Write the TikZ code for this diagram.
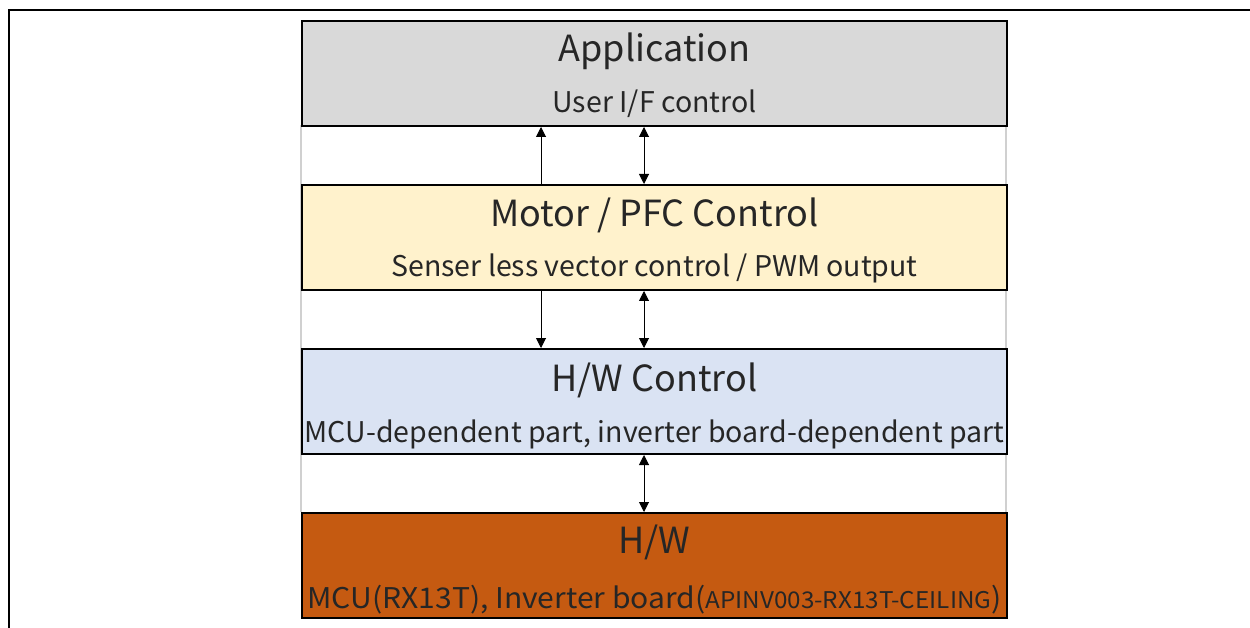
\documentclass[tikz,border=0pt]{standalone}
\usepackage{fontspec}
\setmainfont{Noto Sans CJK JP}
\usetikzlibrary{arrows.meta}
\definecolor{appfill}{HTML}{D9D9D9}
\definecolor{motfill}{HTML}{FFF2CC}
\definecolor{hwcfill}{HTML}{DAE3F3}
\definecolor{hwfill}{HTML}{C55A11}
\definecolor{sidegray}{HTML}{D0D0D0}
\definecolor{txt}{HTML}{262626}
\tikzset{
  layer/.style={draw=black, line width=2pt, minimum width=705pt, minimum height=105pt, inner sep=0pt, anchor=north west},
  ttl/.style={font=\fontsize{36}{40}\selectfont, inner sep=0pt, anchor=base, text=txt},
  sub/.style={font=\fontsize{28.5}{32}\selectfont, inner sep=0pt, anchor=base, text=txt},
  arr/.style={line width=1pt, -{Triangle[length=10pt,width=10pt]}},
  darr/.style={line width=1pt, {Triangle[length=10pt,width=10pt]}-{Triangle[length=10pt,width=10pt]}},
  frame/.style={line width=2pt, draw=black},
  side/.style={line width=1.5pt, draw=sidegray}
}
\begin{document}
\begin{tikzpicture}[x=1pt,y=-1pt]
\useasboundingbox (0,0) rectangle (1250,628);
\draw[frame] (9,628) -- (9,10) -- (1251,10);
\coordinate (sl1) at (301,125);
\coordinate (sl2) at (301,512);
\coordinate (sr1) at (1006,125);
\coordinate (sr2) at (1006,512);
\draw[side] (sl1) -- (sl2);
\draw[side] (sr1) -- (sr2);
\node[layer, fill=appfill] (app) at (301,20) {};
\node[layer, fill=motfill] (mot) at (301,184) {};
\node[layer, fill=hwcfill] (hwc) at (301,348) {};
\node[layer, fill=hwfill] (hw) at (301,512) {};
\node[ttl] (appt) at ([yshift=-42pt]app.north) {Application};
\node[sub] (apps) at ([yshift=14pt]app.south) {User I/F control};
\node[ttl] (mott) at ([yshift=-43pt]mot.north) {Motor / PFC Control};
\node[sub] (mots) at ([yshift=14pt]mot.south) {Senser less vector control / PWM output};
\node[ttl] (hwct) at ([yshift=-43pt]hwc.north) {H/W Control};
\node[sub] (hwcs) at ([yshift=13pt]hwc.south) {MCU-dependent part, inverter board-dependent part};
\node[ttl] (hwt) at ([yshift=-41pt]hw.north) {\resizebox{72pt}{\height}{H/W}};
\node[sub] (hws) at ([yshift=11pt]hw.south) {\resizebox{694pt}{\height}{MCU(RX13T), Inverter board(\fontsize{23}{26}\selectfont APINV003-RX13T-CEILING\fontsize{28.5}{32}\selectfont)}};
\draw[arr] (mot.north -| 541,0) -- (app.south -| 541,0);
\draw[darr] (mot.north -| 644,0) -- (app.south -| 644,0);
\draw[arr] (mot.south -| 541,0) -- (hwc.north -| 541,0);
\draw[darr] (mot.south -| 644,0) -- (hwc.north -| 644,0);
\draw[darr] (hwc.south -| 644,0) -- (hw.north -| 644,0);
\end{tikzpicture}
\end{document}
